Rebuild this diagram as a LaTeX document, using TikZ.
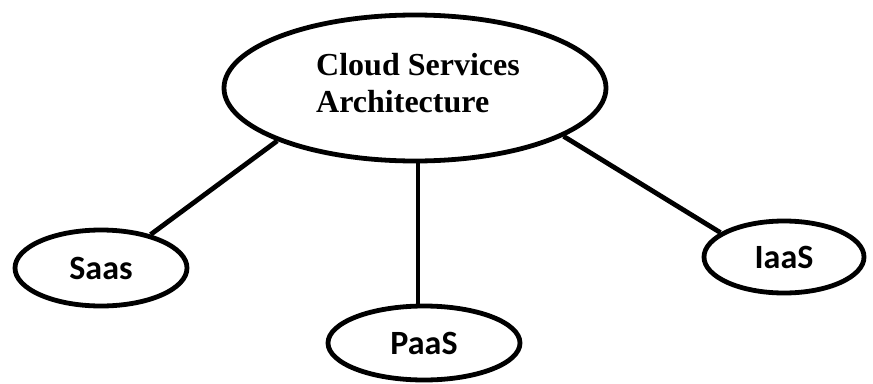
\documentclass[tikz,border=0pt]{standalone}
\usepackage{fontspec}
\setmainfont{Liberation Serif}
\newfontfamily\labelfont{Carlito}
\usetikzlibrary{shapes.geometric}
\begin{document}
\begin{tikzpicture}[x=1pt,y=-1pt,
  el/.style={draw=black,line width=4.8pt,ellipse,inner sep=0pt,fill=white},
  sublabel/.style={font=\labelfont\bfseries\fontsize{34}{40}\selectfont},
  titletext/.style={font=\bfseries\fontsize{32}{37}\selectfont,align=left},
  conn/.style={line width=4.8pt}]
\useasboundingbox (0,0) rectangle (873,383);
\node[el,minimum width=382pt,minimum height=146pt] (main) at (415,88) {};
\node[titletext] (title) at (418,83) {Cloud Services\\Architecture};
\node[el,sublabel,minimum width=172pt,minimum height=76pt] (saas) at (101,268) {Saas};
\node[el,sublabel,minimum width=192pt,minimum height=74pt] (paas) at (424,343) {PaaS};
\node[el,sublabel,minimum width=160pt,minimum height=72pt] (iaas) at (784,257) {IaaS};
\draw[conn] (main.201.5) -- (saas.34);
\draw[conn] ([xshift=3pt]main.south) -- ([xshift=3pt]main.south |- paas.north);
\draw[conn] (main.342.8) -- (iaas.159.8);
\end{tikzpicture}
\end{document}
